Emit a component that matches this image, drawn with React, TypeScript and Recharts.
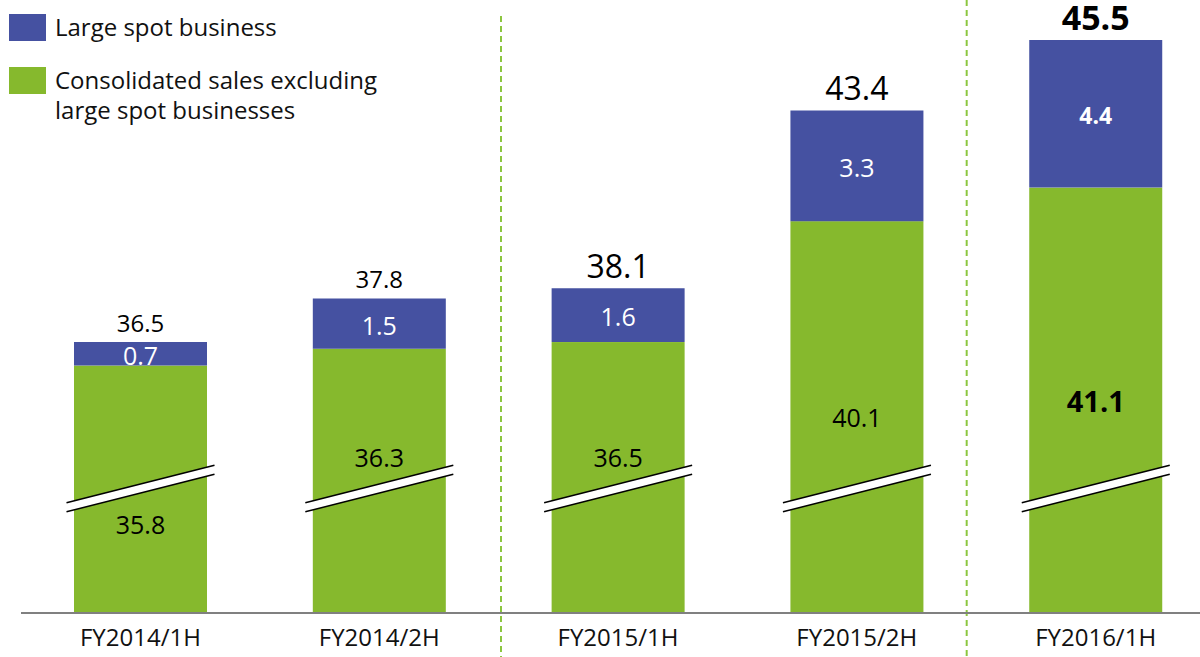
import React from "react";
import { BarChart, Bar, XAxis, YAxis, LabelList, ReferenceLine } from "recharts";

// Half-year consolidated sales, broken value axis (starts near 28.4)

const categories = ["FY2014/1H", "FY2014/2H", "FY2015/1H", "FY2015/2H", "FY2016/1H"];
const baseSales = [35.8, 36.3, 36.5, 40.1, 41.1];
const spotSales = [0.7, 1.5, 1.6, 3.3, 4.4];
const totals = [36.5, 37.8, 38.1, 43.4, 45.5];
const dividers = [1.51, 3.46];

const GREEN = "#86b92d";
const BLUE = "#4551a1";
const FONT = "'Open Sans', 'Noto Sans', sans-serif";

// label styling per bar (sizes/weights only)
const totalStyle = [
  { size: 24, weight: 400 },
  { size: 24, weight: 400 },
  { size: 32, weight: 400 },
  { size: 32, weight: 400 },
  { size: 34, weight: 700 },
];
const innerStyle = [
  { size: 25, weight: 400 },
  { size: 25, weight: 400 },
  { size: 25, weight: 400 },
  { size: 25, weight: 400 },
  { size: 29, weight: 700 },
];
const spotStyle = [
  { size: 25, weight: 400 },
  { size: 25, weight: 400 },
  { size: 25, weight: 400 },
  { size: 25, weight: 400 },
  { size: 23, weight: 700 },
];

const data = categories.map((name, i) => ({
  idx: i,
  name,
  base: baseSales[i],
  spot: spotSales[i],
  total: totals[i],
}));

const BREAK_UP = 124.5;

function BaseShape(props: any) {
  const { x, y, width, height, background, index, base } = props;
  const bottom = background ? background.y + background.height : y + height;
  const top = y;
  const cx = x + width / 2;
  const by = bottom - BREAK_UP;
  const half = width / 2 + 7.5;
  const dy = half * 0.254;
  const xl = cx - half;
  const xr = cx + half;
  const u1 = { x: xl, y: by - 4.5 + dy };
  const u2 = { x: xr, y: by - 4.5 - dy };
  const l1 = { x: xl, y: by + 4.5 + dy };
  const l2 = { x: xr, y: by + 4.5 - dy };
  const mid = (top + bottom) / 2;
  const labelY = mid >= by - 2 ? by + 35 : Math.abs(mid - by) < 45 ? by - 32 : mid;
  const st = innerStyle[index];
  return (
    <g>
      <rect x={x} y={top} width={width} height={bottom - top} fill={GREEN} />
      <polygon
        points={`${u1.x},${u1.y} ${u2.x},${u2.y} ${l2.x},${l2.y} ${l1.x},${l1.y}`}
        fill="#fff"
      />
      <line x1={u1.x} y1={u1.y} x2={u2.x} y2={u2.y} stroke="#000" strokeWidth={1.5} />
      <line x1={l1.x} y1={l1.y} x2={l2.x} y2={l2.y} stroke="#000" strokeWidth={1.5} />
      <text
        x={cx}
        y={labelY}
        textAnchor="middle"
        dominantBaseline="central"
        fontFamily={FONT}
        fontSize={st.size}
        fontWeight={st.weight}
        fill="#000"
      >
        {base}
      </text>
    </g>
  );
}

function SpotLabel(props: any) {
  const { x, y, width, height, value, index } = props;
  const st = spotStyle[index];
  return (
    <text
      x={x + width / 2}
      y={y + height / 2 + 1}
      textAnchor="middle"
      dominantBaseline="central"
      fontFamily={FONT}
      fontSize={st.size}
      fontWeight={st.weight}
      fill="#fff"
    >
      {value}
    </text>
  );
}

function TotalLabel(props: any) {
  const { x, y, width, index } = props;
  const st = totalStyle[index];
  return (
    <text
      x={x + width / 2}
      y={y - 10}
      textAnchor="middle"
      fontFamily={FONT}
      fontSize={st.size}
      fontWeight={st.weight}
      fill="#000"
    >
      {totals[index]}
    </text>
  );
}

function Tick(props: any) {
  const { x, y, payload } = props;
  return (
    <text x={x} y={y + 25} textAnchor="middle" fontFamily={FONT} fontSize={24} fill="#111">
      {categories[payload.value]}
    </text>
  );
}

function LegendBox() {
  const item = (color: string, top: number, lines: string[]) => (
    <div style={{ position: "absolute", left: 0, top, display: "flex" }}>
      <div style={{ width: 37, height: 27, background: color, marginTop: 1 }} />
      <div style={{ marginLeft: 9, fontFamily: FONT, fontSize: 24, lineHeight: "30px", color: "#111", marginTop: -1, whiteSpace: "nowrap" }}>
        {lines.map((l) => (
          <div key={l}>{l}</div>
        ))}
      </div>
    </div>
  );
  return (
    <div style={{ position: "absolute", left: 9, top: 0, width: 420, height: 120 }}>
      {item(BLUE, 13, ["Large spot business"])}
      {item(GREEN, 66, ["Consolidated sales excluding", "large spot businesses"])}
    </div>
  );
}

function DividerLine(p: any, first: boolean) {
  const top = Math.min(p.y1, p.y2);
  const bottom = Math.max(p.y1, p.y2);
  return (
    <line
      x1={p.x1}
      x2={p.x2}
      y1={first ? top + 6 : top - 10}
      y2={bottom + 44}
      stroke="#8cc63f"
      strokeWidth={2}
      strokeDasharray="6 4"
    />
  );
}

export default function App() {
  return (
    <div style={{ position: "absolute", left: 0, top: 0, width: 1200, height: 657, background: "#fff" }}>
      <BarChart width={1200} height={657} data={data} margin={{ top: 10, right: 0, left: 21, bottom: 0 }}>
        <XAxis
          type="number"
          dataKey="idx"
          domain={[-0.5, 4.437]}
          ticks={[0, 1, 2, 3, 4]}
          allowDataOverflow
          height={44}
          tickLine={false}
          axisLine={{ stroke: "#808080", strokeWidth: 2 }}
          tick={<Tick />}
        />
        <YAxis hide type="number" domain={[28.43, 46.39]} allowDataOverflow />
        {dividers.map((d, i) => (
          <ReferenceLine key={d} x={d} shape={(p: any) => DividerLine(p, i === 0)} />
        ))}
        <Bar dataKey="base" stackId="s" barSize={133} fill={GREEN} shape={<BaseShape />} isAnimationActive={false} />
        <Bar dataKey="spot" stackId="s" barSize={133} fill={BLUE} isAnimationActive={false}>
          <LabelList dataKey="spot" content={<SpotLabel />} />
          <LabelList dataKey="total" content={<TotalLabel />} />
        </Bar>
      </BarChart>
      <LegendBox />
    </div>
  );
}
